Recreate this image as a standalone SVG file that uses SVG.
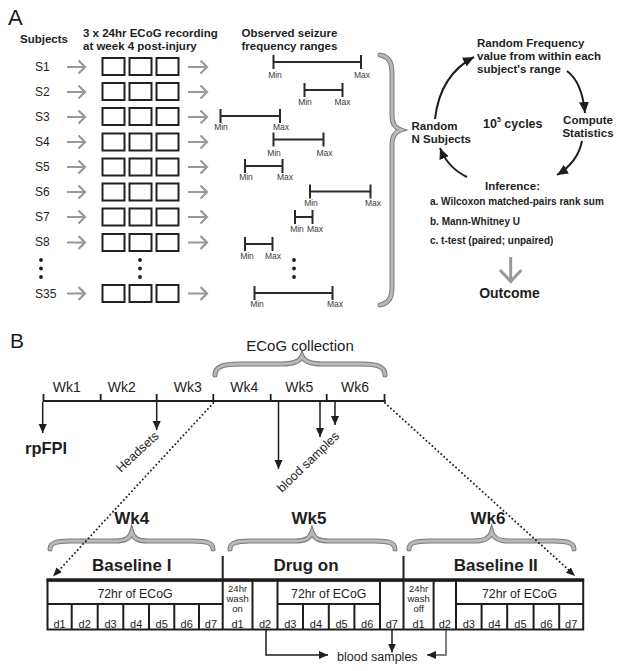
<svg xmlns="http://www.w3.org/2000/svg" width="624" height="671" viewBox="0 0 624 671">
<style>
text{font-family:"Liberation Sans",Arial,Helvetica,sans-serif;fill:#1e1e1e}
.b{font-weight:bold}
.h{font-size:11.5px;font-weight:bold}
.lbl{font-size:12px}
.mm{font-size:8.5px;fill:#3a3a3a;text-anchor:middle}
.box{fill:#fff;stroke:#222;stroke-width:2}
.rng{stroke:#2a2a2a;stroke-width:2;fill:none}
.garr{stroke:#999;stroke-width:2.2;fill:none}
.ln{stroke:#1e1e1e;stroke-width:1.5;fill:none}
.bro{stroke:#7a7a7a;stroke-width:5;fill:none;stroke-linecap:round}
.bri{stroke:#b8b8b8;stroke-width:3;fill:none;stroke-linecap:round}
.dot{stroke:#1e1e1e;stroke-width:2;stroke-dasharray:0 4;stroke-linecap:round;fill:none}
.cell{stroke:#1e1e1e;stroke-width:2;fill:none}
.day{font-size:11px;text-anchor:middle}
.wash{font-size:9.5px;text-anchor:middle}
.ecog{font-size:12.3px;text-anchor:middle}
</style>
<defs>
<marker id="ah" viewBox="0 0 10 10" refX="10" refY="5" markerWidth="9" markerHeight="9" markerUnits="userSpaceOnUse" orient="auto"><path d="M0,0.5 L10,5 L0,9.5 z" fill="#1e1e1e"/></marker>
<marker id="ahc" viewBox="0 0 10 10" refX="10" refY="5" markerWidth="11" markerHeight="11" markerUnits="userSpaceOnUse" orient="auto"><path d="M0,0.5 L10,5 L0,9.5 z" fill="#1e1e1e"/></marker>
<marker id="ahd" viewBox="0 0 10 10" refX="10" refY="5" markerWidth="9" markerHeight="9" markerUnits="userSpaceOnUse" orient="auto"><path d="M0,1 L10,5 L0,9 z" fill="#1e1e1e"/></marker>
</defs>

<!-- ============ PART A ============ -->
<text x="8" y="25" style="font-size:22px">A</text>
<g id="headers">
<text x="20" y="43" class="h">Subjects</text>
<text x="83" y="37" class="h">3 x 24hr ECoG recording</text>
<text x="83" y="50" class="h">at week 4 post-injury</text>
<text x="241.5" y="37" class="h">Observed seizure</text>
<text x="241.5" y="50" class="h">frequency  ranges</text>
</g>

<g id="subjects" class="lbl">
<text x="35" y="71" class="lbl">S1</text>
<text x="35" y="96" class="lbl">S2</text>
<text x="35" y="121" class="lbl">S3</text>
<text x="35" y="146" class="lbl">S4</text>
<text x="35" y="171" class="lbl">S5</text>
<text x="35" y="196" class="lbl">S6</text>
<text x="35" y="221" class="lbl">S7</text>
<text x="35" y="246" class="lbl">S8</text>
<text x="35" y="297.5" class="lbl">S35</text>
<circle cx="41" cy="260" r="1.9" fill="#1e1e1e"/>
<circle cx="41" cy="268.5" r="1.9" fill="#1e1e1e"/>
<circle cx="41" cy="277" r="1.9" fill="#1e1e1e"/>
</g>

<g id="recordings">
<rect class="box" x="102.5" y="58" width="22" height="17"/><rect class="box" x="129.5" y="58" width="22" height="17"/><rect class="box" x="156.5" y="58" width="22" height="17"/>
<rect class="box" x="102.5" y="83" width="22" height="17"/><rect class="box" x="129.5" y="83" width="22" height="17"/><rect class="box" x="156.5" y="83" width="22" height="17"/>
<rect class="box" x="102.5" y="108" width="22" height="17"/><rect class="box" x="129.5" y="108" width="22" height="17"/><rect class="box" x="156.5" y="108" width="22" height="17"/>
<rect class="box" x="102.5" y="133.5" width="22" height="17"/><rect class="box" x="129.5" y="133.5" width="22" height="17"/><rect class="box" x="156.5" y="133.5" width="22" height="17"/>
<rect class="box" x="102.5" y="158.5" width="22" height="17"/><rect class="box" x="129.5" y="158.5" width="22" height="17"/><rect class="box" x="156.5" y="158.5" width="22" height="17"/>
<rect class="box" x="102.5" y="183.5" width="22" height="17"/><rect class="box" x="129.5" y="183.5" width="22" height="17"/><rect class="box" x="156.5" y="183.5" width="22" height="17"/>
<rect class="box" x="102.5" y="208.5" width="22" height="17"/><rect class="box" x="129.5" y="208.5" width="22" height="17"/><rect class="box" x="156.5" y="208.5" width="22" height="17"/>
<rect class="box" x="102.5" y="234" width="22" height="17"/><rect class="box" x="129.5" y="234" width="22" height="17"/><rect class="box" x="156.5" y="234" width="22" height="17"/>
<rect class="box" x="102.5" y="285" width="22" height="17"/><rect class="box" x="129.5" y="285" width="22" height="17"/><rect class="box" x="156.5" y="285" width="22" height="17"/>
<circle cx="140" cy="260" r="1.9" fill="#1e1e1e"/>
<circle cx="140" cy="268.5" r="1.9" fill="#1e1e1e"/>
<circle cx="140" cy="277" r="1.9" fill="#1e1e1e"/>
</g>

<g id="ranges">
<path class="rng" d="M273.5,55 V69 M273.5,62 H361 M361,55 V69"/>
<text class="mm" x="275" y="78">Min</text><text class="mm" x="362" y="78">Max</text>
<path class="rng" d="M304.5,83 V97 M304.5,90 H342.5 M342.5,83 V97"/>
<text class="mm" x="305" y="104.5">Min</text><text class="mm" x="342.5" y="104.5">Max</text>
<path class="rng" d="M220.5,109 V123 M220.5,116 H280 M280,109 V123"/>
<text class="mm" x="221" y="129.5">Min</text><text class="mm" x="281" y="129.5">Max</text>
<path class="rng" d="M273.5,132.5 V146.5 M273.5,139.5 H323.5 M323.5,132.5 V146.5"/>
<text class="mm" x="274" y="156">Min</text><text class="mm" x="324.5" y="156">Max</text>
<path class="rng" d="M245,159 V173 M245,166 H282.5 M282.5,159 V173"/>
<text class="mm" x="246" y="179.5">Min</text><text class="mm" x="285" y="179.5">Max</text>
<path class="rng" d="M310,184.5 V198.5 M310,191.5 H370.5 M370.5,184.5 V198.5"/>
<text class="mm" x="311" y="206">Min</text><text class="mm" x="373" y="206">Max</text>
<path class="rng" d="M295,210 V224 M295,217 H312.5 M312.5,210 V224"/>
<text class="mm" x="297" y="232">Min</text><text class="mm" x="315" y="232">Max</text>
<path class="rng" d="M245,237 V251 M245,244 H272.5 M272.5,237 V251"/>
<text class="mm" x="247" y="258.5">Min</text><text class="mm" x="273" y="258.5">Max</text>
<circle cx="294" cy="260" r="1.9" fill="#1e1e1e"/>
<circle cx="294" cy="268.5" r="1.9" fill="#1e1e1e"/>
<circle cx="294" cy="277" r="1.9" fill="#1e1e1e"/>
<path class="rng" d="M254.5,286 V300 M254.5,293 H332.5 M332.5,286 V300"/>
<text class="mm" x="257" y="307">Min</text><text class="mm" x="335" y="307">Max</text>
</g>

<g id="braceA">
<path class="bro" d="M380,55 C390,57 392,63 392,75 L392,116 C392,124 395,128 401,130 C395,132 392,136 392,144 L392,287 C392,298 389,303 380,305"/>
<path class="bri" d="M380,55 C390,57 392,63 392,75 L392,116 C392,124 395,128 401,130 C395,132 392,136 392,144 L392,287 C392,298 389,303 380,305"/>
</g>

<g id="cycle">
<g id="random-freq">
<text x="477" y="47" class="h">Random Frequency</text>
<text x="477" y="60" class="h">value from within each</text>
<text x="477" y="73" class="h">subject's range</text>
</g>
<g id="random-n">
<text x="411.5" y="130" class="h">Random</text>
<text x="411.5" y="142.5" class="h">N Subjects</text>
</g>
<g id="cycles-label">
<text x="483" y="127.5" style="font-size:12.5px;font-weight:bold">10<tspan dy="-6" style="font-size:7px">5</tspan><tspan dy="6"> cycles</tspan></text>
</g>
<g id="compute">
<text x="588" y="123.5" class="h" text-anchor="middle">Compute</text>
<text x="588" y="137" class="h" text-anchor="middle">Statistics</text>
</g>
<g id="inference">
<text x="512.5" y="190" class="h" text-anchor="middle">Inference:</text>
<text x="430" y="205" style="font-size:10px;font-weight:bold">a. Wilcoxon matched-pairs rank sum</text>
<text x="430" y="224.5" style="font-size:10px;font-weight:bold">b. Mann-Whitney U</text>
<text x="430" y="243.5" style="font-size:10px;font-weight:bold">c. t-test (paired; unpaired)</text>
</g>
<g id="outcome">
<text x="509.5" y="298" text-anchor="middle" style="font-size:14px;font-weight:bold">Outcome</text>
</g>
</g>

<!-- ============ PART B ============ -->
<text x="10" y="348" style="font-size:21px">B</text>

<g id="timeline">
<text x="300" y="351" text-anchor="middle" style="font-size:15px">ECoG collection</text>
<path class="bro" d="M215,375 C215,367 222,364 240,364 L282,364 C294,364 300,361 302,356 C304,361 310,364 322,364 L362,364 C378,364 385,367 385,375"/>
<path class="bri" d="M215,375 C215,367 222,364 240,364 L282,364 C294,364 300,361 302,356 C304,361 310,364 322,364 L362,364 C378,364 385,367 385,375"/>
<g style="font-size:14px" text-anchor="middle">
<text x="66.7" y="391.5">Wk1</text>
<text x="121.7" y="391.5">Wk2</text>
<text x="187.7" y="391.5">Wk3</text>
<text x="244.3" y="391.5">Wk4</text>
<text x="299.3" y="391.5">Wk5</text>
<text x="355" y="391.5">Wk6</text>
</g>
<path d="M43,401 H385.5" stroke="#1e1e1e" stroke-width="2.2" fill="none"/>
<path d="M43.5,394 V402 M100.7,394 V402 M156.7,394 V402 M213.3,394 V402 M270.7,394 V402 M326.7,394 V402 M384.5,394 V402" stroke="#1e1e1e" stroke-width="1.8" fill="none"/>
</g>

<g id="rpFPI"><text x="25" y="454" style="font-size:16.5px;font-weight:bold">rpFPI</text></g>
<g id="headsets"><text transform="translate(121,473) rotate(-43)" style="font-size:12.5px">Headsets</text></g>
<g id="blood-top"><text transform="translate(282,493) rotate(-44)" style="font-size:12.5px">blood samples</text></g>

<g id="week-labels" style="font-size:17px;font-weight:bold" text-anchor="middle">
<text x="131.7" y="524">Wk4</text>
<text x="309" y="524">Wk5</text>
<text x="488" y="524">Wk6</text>
</g>
<g id="week-braces">
<path class="bro" d="M50,549 C50,543 56,541 70,541 L115,541 C126,541 130,538 131.7,532 C133.4,538 137,541 148,541 L193,541 C207,541 213,543 213,549"/>
<path class="bri" d="M50,549 C50,543 56,541 70,541 L115,541 C126,541 130,538 131.7,532 C133.4,538 137,541 148,541 L193,541 C207,541 213,543 213,549"/>
<path class="bro" d="M230,549 C230,543 236,541 250,541 L295,541 C306,541 310,538 312,532 C314,538 318,541 329,541 L375,541 C389,541 395,543 395,549"/>
<path class="bri" d="M230,549 C230,543 236,541 250,541 L295,541 C306,541 310,538 312,532 C314,538 318,541 329,541 L375,541 C389,541 395,543 395,549"/>
<path class="bro" d="M409,549 C409,543 415,541 429,541 L474,541 C485,541 490,538 491.7,532 C493.4,538 498,541 509,541 L554,541 C568,541 574,543 574,549"/>
<path class="bri" d="M409,549 C409,543 415,541 429,541 L474,541 C485,541 490,538 491.7,532 C493.4,538 498,541 509,541 L554,541 C568,541 574,543 574,549"/>
</g>

<g id="phase-labels" style="font-size:17px;font-weight:bold" text-anchor="middle">
<text x="131.7" y="571">Baseline I</text>
<text x="306" y="571">Drug on</text>
<text x="495.8" y="571">Baseline II</text>
</g>

<g id="table">
<path class="cell" d="M222.7,556 V629.5 M403.5,556 V629.5"/>
<rect x="47.5" y="580.5" width="535.7" height="49" fill="none" stroke="#1e1e1e" stroke-width="2"/>
<path d="M46.5,580 H584.2" stroke="#1e1e1e" stroke-width="3.5"/>
<path class="cell" d="M47.5,604 H222.7 M277.5,604 H380 M456,604 H583.2"/>
<path class="cell" d="M71.7,604 V629.5 M97.7,604 V629.5 M123.3,604 V629.5 M149,604 V629.5 M174.3,604 V629.5 M199,604 V629.5"/>
<path class="cell" d="M252.5,580 V629.5 M277.5,580 V629.5 M303,604 V629.5 M328.8,604 V629.5 M354.4,604 V629.5 M380,580 V629.5"/>
<path class="cell" d="M433.6,580 V629.5 M456,580 V629.5 M481.6,604 V629.5 M507.2,604 V629.5 M533.6,604 V629.5 M559.2,604 V629.5"/>
<text class="ecog" x="135" y="597.5">72hr of ECoG</text>
<text class="ecog" x="328.7" y="597.5">72hr of ECoG</text>
<text class="ecog" x="519.6" y="597.5">72hr of ECoG</text>
<text class="wash" x="237.6" y="591.5">24hr</text><text class="wash" x="237.6" y="601.5">wash</text><text class="wash" x="237.6" y="611.5">on</text>
<text class="wash" x="418.6" y="591.5">24hr</text><text class="wash" x="418.6" y="601.5">wash</text><text class="wash" x="418.6" y="611.5">off</text>
<g>
<text class="day" x="59.6" y="628">d1</text><text class="day" x="84.7" y="628">d2</text><text class="day" x="110.5" y="628">d3</text><text class="day" x="136.2" y="628">d4</text><text class="day" x="161.7" y="628">d5</text><text class="day" x="186.7" y="628">d6</text><text class="day" x="210.9" y="628">d7</text>
<text class="day" x="237.6" y="628">d1</text><text class="day" x="265" y="628">d2</text><text class="day" x="290.3" y="628">d3</text><text class="day" x="315.9" y="628">d4</text><text class="day" x="341.6" y="628">d5</text><text class="day" x="367.2" y="628">d6</text><text class="day" x="391.8" y="628">d7</text>
<text class="day" x="418.6" y="628">d1</text><text class="day" x="444.8" y="628">d2</text><text class="day" x="468.8" y="628">d3</text><text class="day" x="494.4" y="628">d4</text><text class="day" x="520.4" y="628">d5</text><text class="day" x="546.4" y="628">d6</text><text class="day" x="571.2" y="628">d7</text>
</g>
</g>
<g id="blood-bottom"><text x="337" y="661" style="font-size:12.5px">blood samples</text></g>

<!-- ============ CONNECTORS ============ -->
<g id="connectors">
<g id="gray-arrows" class="garr">
<path d="M67,67 H85 M78.5,60.5 L85,67 L78.5,73.5"/>
<path d="M67,92 H85 M78.5,85.5 L85,92 L78.5,98.5"/>
<path d="M67,117 H85 M78.5,110.5 L85,117 L78.5,123.5"/>
<path d="M67,142 H85 M78.5,135.5 L85,142 L78.5,148.5"/>
<path d="M67,167 H85 M78.5,160.5 L85,167 L78.5,173.5"/>
<path d="M67,192 H85 M78.5,185.5 L85,192 L78.5,198.5"/>
<path d="M67,217 H85 M78.5,210.5 L85,217 L78.5,223.5"/>
<path d="M67,242.5 H85 M78.5,236 L85,242.5 L78.5,249"/>
<path d="M67,293.5 H85 M78.5,287 L85,293.5 L78.5,300"/>
<path d="M188,67 H207 M200.5,60.5 L207,67 L200.5,73.5"/>
<path d="M188,92 H207 M200.5,85.5 L207,92 L200.5,98.5"/>
<path d="M188,117 H207 M200.5,110.5 L207,117 L200.5,123.5"/>
<path d="M188,142 H207 M200.5,135.5 L207,142 L200.5,148.5"/>
<path d="M188,167 H207 M200.5,160.5 L207,167 L200.5,173.5"/>
<path d="M188,192 H207 M200.5,185.5 L207,192 L200.5,198.5"/>
<path d="M188,217 H207 M200.5,210.5 L207,217 L200.5,223.5"/>
<path d="M188,242.5 H207 M200.5,236 L207,242.5 L200.5,249"/>
<path d="M188,293.5 H207 M200.5,287 L207,293.5 L200.5,300"/>
<path d="M510.7,257 V281 M500,270 L510.7,281.5 L521.4,270" style="stroke-width:3"/>
</g>
<g id="cycle-arrows" style="stroke:#1e1e1e;stroke-width:2;fill:none">
<path d="M435,119 Q440,75 474,57" marker-end="url(#ahc)"/>
<path d="M567,71 Q582,82 585,113" marker-end="url(#ahc)"/>
<path d="M582,141 Q578,162 557,175" marker-end="url(#ahc)"/>
<path d="M467,177 Q448,168 440,148" marker-end="url(#ahc)"/>
</g>
<g id="timeline-arrows" class="ln">
<path d="M42.7,402 V433" marker-end="url(#ah)"/>
<path d="M156.7,402 V430" marker-end="url(#ah)"/>
<path d="M278.5,402 V469" marker-end="url(#ah)"/>
<path d="M320,402 V437" marker-end="url(#ah)"/>
<path d="M335,402 V425" marker-end="url(#ah)"/>
</g>
<g id="dotted">
<path class="dot" d="M213.3,403 L56,573.5"/>
<path d="M213.3,403 L53,576.5" stroke="none" fill="none" marker-end="url(#ahd)"/>
<path class="dot" d="M385,403 L572,573"/>
<path d="M385,403 L575,576" stroke="none" fill="none" marker-end="url(#ahd)"/>
</g>
<g id="blood-arrows" class="ln">
<path d="M266,630 V655 H328" marker-end="url(#ah)"/>
<path d="M392,630 V652.5" marker-end="url(#ah)"/>
<path d="M446,630 V655 H427" marker-end="url(#ah)" style="stroke:#555"/>
</g>
</g>
</svg>
